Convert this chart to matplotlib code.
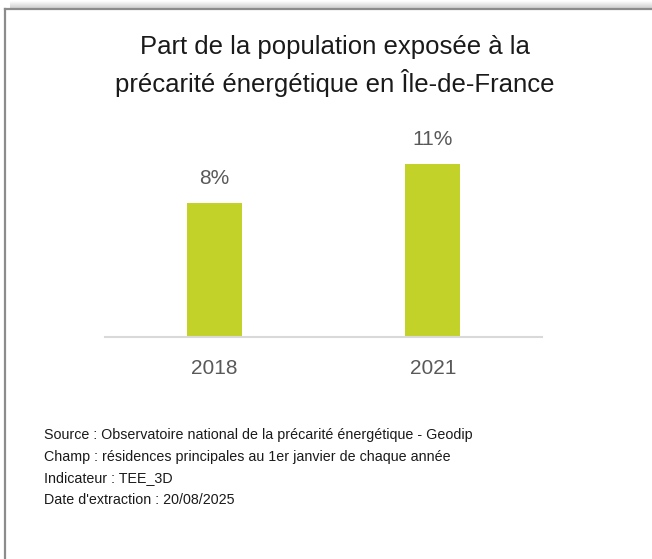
import matplotlib.pyplot as plt
from matplotlib.lines import Line2D
from matplotlib import font_manager

years = ["2018", "2021"]
shares = [8.4, 10.85]  # % de la population

title = "Part de la population exposée à la\nprécarité énergétique en Île-de-France"
notes = [
    "Source : Observatoire national de la précarité énergétique - Geodip",
    "Champ : résidences principales au 1er janvier de chaque année",
    "Indicateur : TEE_3D",
    "Date d'extraction : 20/08/2025",
]

names = {f.name for f in font_manager.fontManager.ttflist}
narrow = "Liberation Sans Narrow" if "Liberation Sans Narrow" in names else "Liberation Sans"

bar_color = "#c2d229"
grey_txt = "#595959"

fig = plt.figure(figsize=(6.52, 5.59), dpi=100)
W, H = 652, 559

# frame: grey line on top and left, soft shadow above the top line
for i in range(8):
    y = 1 - (i + 0.5) / H
    fig.add_artist(Line2D([0.015, 1], [y, y], transform=fig.transFigure,
                          color="#808080", alpha=0.03 + 0.05 * i, lw=0.75))
fig.add_artist(Line2D([4.5 / W, 1], [1 - 8.5 / H, 1 - 8.5 / H], transform=fig.transFigure,
                      color="#8c8c8c", lw=1.6))
fig.add_artist(Line2D([4.5 / W, 4.5 / W], [0, 1 - 8.5 / H], transform=fig.transFigure,
                      color="#8c8c8c", lw=1.6))

ax = fig.add_axes([105 / W, 1 - 337 / H, 437 / W, 223 / H])
x = range(len(years))
bars = ax.bar(x, shares, width=0.25, color=bar_color)
ax.set_xlim(-0.5, 1.5)
ax.set_ylim(0, 14)
for b, v in zip(bars, shares):
    ax.annotate(f"{v:.0f}%", (b.get_x() + b.get_width() / 2, v), xytext=(0, 11),
                textcoords="offset points", ha="center", va="bottom",
                fontsize=15, color=grey_txt, family="Liberation Sans")

ax.set_xticks(list(x))
ax.set_xticklabels(years, fontsize=15, color=grey_txt, family="Liberation Sans")
ax.tick_params(axis="x", length=0, pad=16)
ax.set_yticks([])
for s in ["top", "right", "left"]:
    ax.spines[s].set_visible(False)
ax.spines["bottom"].set_color("#d9d9d9")
ax.spines["bottom"].set_linewidth(1.5)

fig.text(335 / W, 1 - 66 / H, title, ha="center", va="center", fontsize=18.5,
         family=narrow, color="#1a1a1a", linespacing=1.4)

for i, line in enumerate(notes):
    fig.text(44 / W, 1 - (435 + 21.6 * i) / H, line, ha="left", va="center",
             fontsize=10.3, family=narrow, color="#1a1a1a")

fig.savefig("out.png", dpi=100, facecolor="white")
